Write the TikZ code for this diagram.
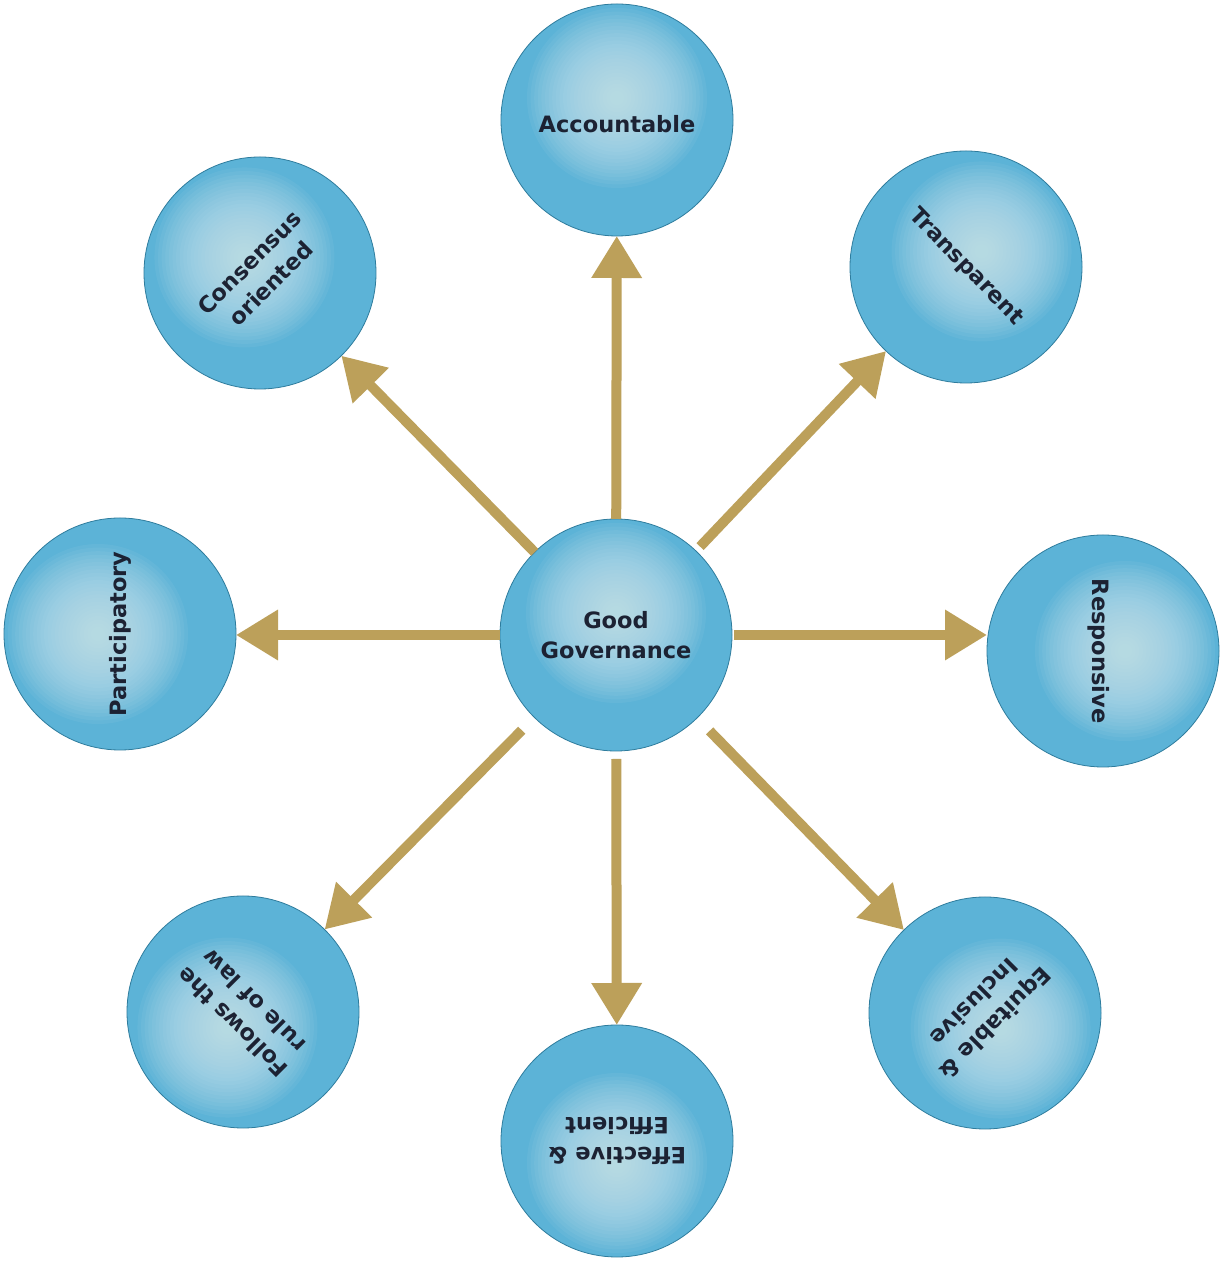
\documentclass[tikz,border=0pt]{standalone}
\usepackage{fontspec}
\setmainfont{DejaVu Sans}
\usetikzlibrary{arrows.meta}
\definecolor{gold}{HTML}{BCA05A}
\definecolor{ballhl}{HTML}{CFE8F0}
\definecolor{ballmid}{HTML}{5CB3D7}
\definecolor{balledge}{HTML}{3A9BC4}
\definecolor{txt}{HTML}{1C2233}
\pgfdeclareradialshading{ballbase}{\pgfpointorigin}{color(0bp)=(ballmid); color(26bp)=(ballmid); color(44bp)=(ballmid!65!balledge); color(50bp)=(balledge)}
\tikzset{
  ball/.style={circle, minimum size=232bp, inner sep=0pt, outer sep=0pt, shading=ballbase, draw=balledge!80!black, line width=0.8bp},
  glowring/.style={fill=ballhl, fill opacity=0.07},
  lbl/.style={text=txt, font=\bfseries\fontsize{22.5bp}{30bp}\selectfont, align=center, inner sep=0pt},
  arr/.style={draw=gold, line width=10bp, -{Triangle[width=48bp,length=42bp]}}
}
\newcommand\glowat[2]{%
  \foreach \k in {0,...,23}{\fill[glowring] ([shift={(#2:22)}]#1.center) circle[radius=90-3.6*\k];}}
\begin{document}
\begin{tikzpicture}[x=1bp,y=1bp]
\fill[white] (0,0) rectangle (1221,1273);
\useasboundingbox (0,0) rectangle (1221,1273);
% circles
\node[ball] (gg)  at (616,638)  {};
\node[ball] (acc) at (617,1153) {};
\node[ball] (tra) at (966,1006) {};
\node[ball] (res) at (1103,622) {};
\node[ball] (equ) at (985,260)  {};
\node[ball] (eff) at (617,132)  {};
\node[ball] (fol) at (243,261)  {};
\node[ball] (par) at (120,639)  {};
\node[ball] (con) at (260,1000) {};
% highlights
\glowat{gg}{90}
\glowat{acc}{90}
\glowat{tra}{45}
\glowat{res}{0}
\glowat{equ}{-45}
\glowat{eff}{-90}
\glowat{fol}{-135}
\glowat{par}{180}
\glowat{con}{135}
% arrows
\draw[arr] (gg) -- (acc);
\draw[arr, shorten <=6bp] (gg) -- (tra);
\draw[arr, shorten <=2bp] (gg.east) -- (res.west |- gg.east);
\draw[arr, shorten <=18bp] (gg) -- (equ);
\draw[arr, shorten <=8bp] (gg) -- (eff);
\draw[arr, shorten <=18bp] (gg) -- (fol);
\draw[arr] (gg.west) -- (par.east |- gg.west);
\draw[arr] (gg) -- (con);
% labels
\node[lbl] (ggT) at (gg) {Good\\Governance};
\node[lbl] (accT) at ([yshift=-4]acc.center) {Accountable};
\node[lbl, rotate=-46] (traT) at (tra) {Transparent};
\node[lbl, rotate=-90] (resT) at ([xshift=-4]res.center) {Responsive};
\node[lbl, rotate=-135] (equT) at (equ) {Equitable \&\\Inclusive};
\node[lbl, rotate=180] (effT) at (eff) {Effective \&\\Efficient};
\node[lbl, rotate=135] (folT) at (fol) {Follows the\\rule of law};
\node[lbl, rotate=90] (parT) at (par) {Participatory};
\node[lbl, rotate=45] (conT) at (con) {Consensus\\oriented};
\end{tikzpicture}
\end{document}
